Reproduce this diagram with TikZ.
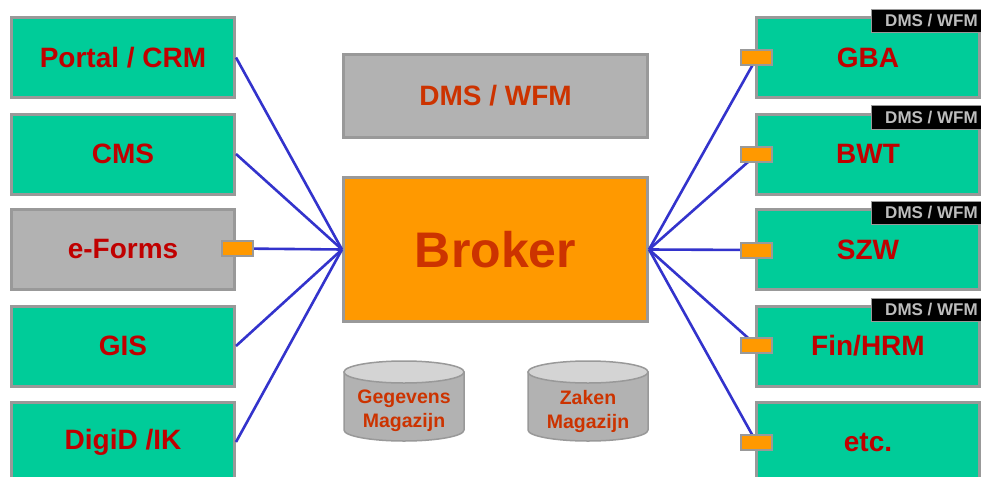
\documentclass[tikz,border=0pt]{standalone}
\usepackage{fontspec}
\setmainfont{Liberation Sans}
\definecolor{appgreen}{HTML}{00CC99}
\definecolor{framegray}{HTML}{999999}
\definecolor{panelgray}{HTML}{B2B2B2}
\definecolor{labelred}{HTML}{C00000}
\definecolor{brokertext}{HTML}{CC3300}
\definecolor{brokerorange}{HTML}{FF9900}
\definecolor{linkblue}{HTML}{3333CC}
\definecolor{tagtext}{HTML}{BDBDBD}
\definecolor{cyltop}{HTML}{D4D4D4}
\tikzset{
  appbox/.style={draw=framegray, line width=3pt, fill=appgreen,
    minimum width=223pt, minimum height=80pt, inner sep=0pt,
    text=labelred, font=\fontsize{28}{32}\selectfont\bfseries},
  graybox/.style={appbox, fill=panelgray},
  centerbox/.style={draw=framegray, line width=3pt, fill=#1, inner sep=0pt,
    minimum width=304pt, text=brokertext},
  port/.style={draw=framegray, line width=2pt, fill=brokerorange,
    minimum width=31pt, minimum height=15pt, inner sep=0pt},
  tag/.style={draw=framegray, line width=1pt, fill=black, anchor=north west,
    minimum width=118pt, minimum height=23pt, inner sep=0pt,
    text=tagtext, font=\fontsize{17}{19}\selectfont\bfseries},
  tagtxt/.style={text=tagtext, font=\fontsize{17}{19}\selectfont\bfseries},
  link/.style={draw=linkblue, line width=2.6pt},
  cyltext/.style={text=brokertext, align=center,
    font=\fontsize{19.5}{24}\selectfont\bfseries}
}
\begin{document}
\begin{tikzpicture}[x=1pt,y=-1pt]
\useasboundingbox (0,0) rectangle (981,476);
\fill[white] (0,0) rectangle (981,476);

% central blocks
\node[centerbox=panelgray, minimum height=83pt,
      font=\fontsize{28}{32}\selectfont\bfseries] (dms) at (495.5,96) {DMS / WFM};
\node[centerbox=brokerorange, minimum height=144pt,
      font=\fontsize{50}{56}\selectfont\bfseries] (broker) at (495.5,249.5) {Broker};

% applications on the left
\node[appbox]  (portal) at (123,57.5) {Portal / CRM};
\node[appbox]  (cms)    at (123,154)  {CMS};
\node[graybox] (eforms) at (123,249.5) {e-Forms};
\node[appbox]  (gis)    at (123,346)  {GIS};
\node[appbox]  (digid)  at (123,442)  {DigiD /IK};

% back-office systems on the right
\node[appbox] (gba) at (868,57.5)  {GBA};
\node[appbox] (bwt) at (868,154)   {BWT};
\node[appbox] (szw) at (868,249.5) {SZW};
\node[appbox] (fin) at (868,346)   {Fin/HRM};
\node[appbox] (etc) at (868,442)   {etc.};

% DMS / WFM tags on the right systems
\foreach \b in {gba,bwt,szw,fin}{
  \node[tag] (tag-\b) at ([yshift=7pt]\b.north -| 870.5,0) {};
  \node[tagtxt] at ([xshift=61pt]tag-\b.west) {DMS / WFM};
}

% connectors into the broker
\coordinate (pe) at (237.5,248.5);
\draw[link] (portal.east) -- (broker.west);
\draw[link] (cms.east) -- (broker.west);
\draw[link] (pe) -- (broker.west);
\draw[link] (gis.east) -- (broker.west);
\draw[link] (digid.east) -- (broker.west);

\coordinate (pg) at (756.5,58);
\coordinate (pb) at (756.5,154.5);
\coordinate (ps) at (756.5,250);
\coordinate (pf) at (756.5,345.5);
\coordinate (px) at (756.5,442.5);
\foreach \p in {pg,pb,ps,pf,px}
  \draw[link] (broker.east) -- (\p);

% adapter ports
\node[port] (port-e) at (pe) {};
\foreach \p in {pg,pb,ps,pf,px}
  \node[port] (port-\p) at (\p) {};

% data stores (y axis points down, so the lower rim runs through 90 degrees)
\foreach \cx/\nm/\txt in {404/geg/{Gegevens\\Magazijn}, 588/zak/{Zaken\\Magazijn}}{
  \draw[draw=framegray, line width=1.5pt, fill=panelgray]
    (\cx-60,372) -- (\cx-60,430) arc[start angle=180, end angle=0, x radius=60, y radius=11]
    -- (\cx+60,372) -- cycle;
  \draw[draw=framegray, line width=1.5pt, fill=cyltop]
    (\cx,372) ellipse [x radius=60, y radius=11];
  \node[cyltext] (\nm) at (\cx,411) {\txt};
}
\end{tikzpicture}
\end{document}
